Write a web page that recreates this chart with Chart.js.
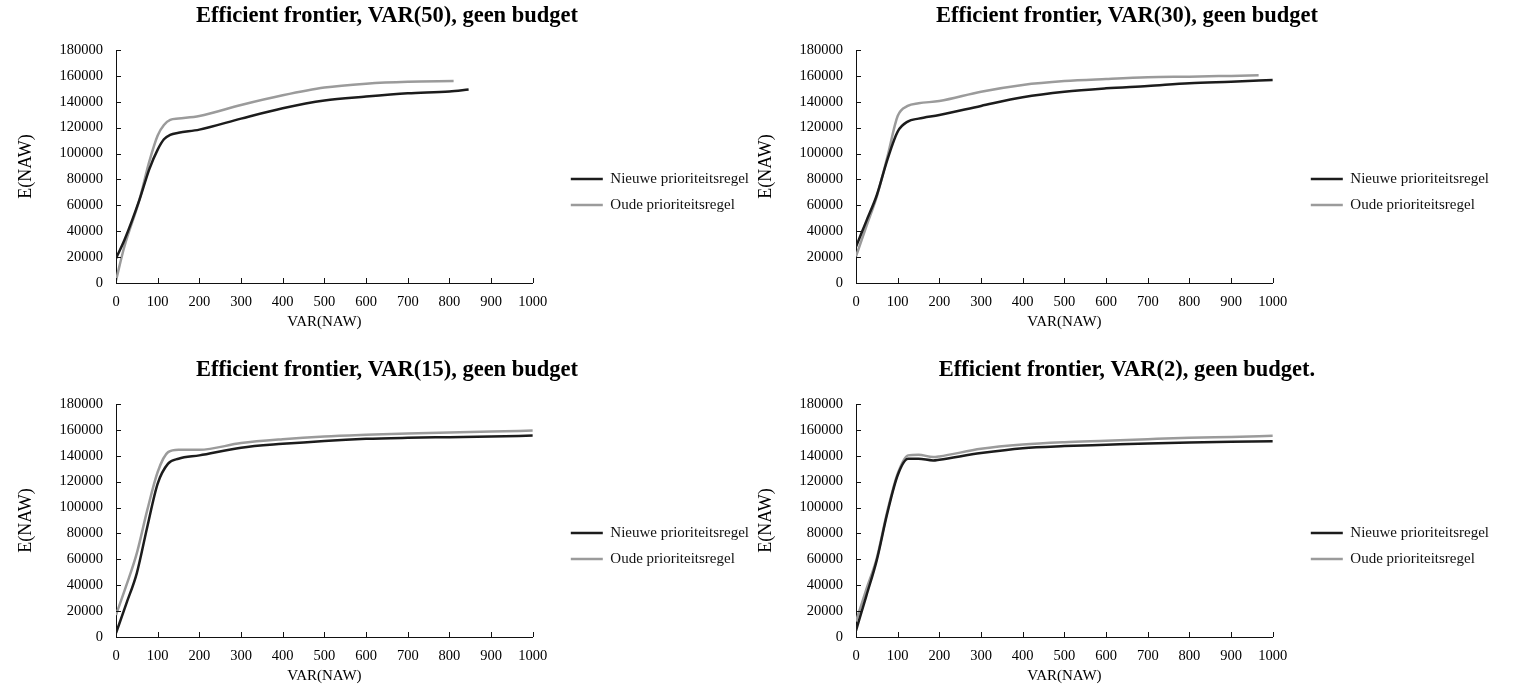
<!DOCTYPE html>
<html>
<head>
<meta charset="utf-8">
<script src="https://cdn.jsdelivr.net/npm/chart.js@4.4.1/dist/chart.umd.min.js"></script>
<style>
  html, body { margin: 0; padding: 0; background: #fff; overflow: hidden; width: 1514px; height: 684px; }
  canvas { position: absolute; }
</style>
</head>
<body>
<canvas id="chart50" width="774" height="335" style="left:0;top:0"></canvas>
<canvas id="chart30" width="774" height="335" style="left:740px;top:0"></canvas>
<canvas id="chart15" width="774" height="335" style="left:0;top:354px"></canvas>
<canvas id="chart2" width="774" height="335" style="left:740px;top:354px"></canvas>
<script>
// VAR(50)
const var50NieuweX = [0, 20, 56, 80, 100, 115, 130, 150, 200, 300, 400, 500, 600, 700, 800, 846];
const var50NieuweY = [19000, 33000, 64000, 88000, 103000, 111000, 114500, 116000, 118500, 127000, 135000, 141000, 144000, 146500, 148000, 149500];
const var50OudeX = [0, 20, 56, 80, 100, 115, 130, 150, 200, 300, 400, 500, 600, 700, 810];
const var50OudeY = [2000, 28000, 64000, 94000, 114000, 122000, 126000, 127000, 129000, 137500, 145000, 151000, 154000, 155500, 156000];

// VAR(30)
const var30NieuweX = [0, 25, 50, 75, 100, 124, 150, 200, 300, 400, 500, 600, 700, 800, 900, 1000];
const var30NieuweY = [28000, 48000, 68000, 95000, 117000, 124700, 127000, 129800, 136800, 143500, 147800, 150400, 152200, 154300, 155500, 156800];
const var30OudeX = [0, 25, 50, 75, 100, 124, 150, 200, 300, 400, 500, 600, 700, 800, 900, 966];
const var30OudeY = [20500, 44000, 67000, 97000, 129000, 136800, 138800, 140600, 147800, 153000, 156000, 157600, 158900, 159400, 160000, 160400];

// VAR(15)
const var15X = [0, 25, 50, 75, 100, 125, 150, 200, 300, 400, 500, 600, 700, 800, 900, 1000];
const var15NieuweY = [3000, 26000, 49400, 85000, 118500, 133900, 137700, 140300, 146200, 149200, 151500, 153100, 153900, 154400, 154900, 155600];
const var15OudeY = [17000, 40000, 64800, 98000, 127500, 142800, 144600, 144600, 149800, 152800, 154900, 156200, 157200, 158000, 158700, 159500];

// VAR(2)
const var2X = [0, 25, 50, 75, 100, 125, 150, 185, 200, 300, 400, 500, 600, 700, 800, 900, 1000];
const var2NieuweY = [5000, 32000, 59600, 95500, 125000, 137700, 137700, 136400, 137000, 142100, 145900, 147500, 148500, 149500, 150300, 150800, 151300];
const var2OudeY = [12000, 37000, 61000, 97000, 126200, 140300, 140800, 139000, 139500, 145400, 148700, 150500, 151600, 152800, 153900, 154600, 155400];

const xTicks = { min: 0, max: 1000, step: 100 };
const yTicks = { min: 0, max: 180000, step: 20000 };

Chart.defaults.font.family = '"Liberation Serif", "Times New Roman", serif';
Chart.defaults.color = '#000';

// korte tickstreepjes naar binnen, zoals in Excel
const innerTicks = {
  id: 'innerTicks',
  afterDraw(chart) {
    const { ctx, chartArea, scales } = chart;
    ctx.save();
    ctx.strokeStyle = '#111';
    ctx.lineWidth = 1;
    ctx.beginPath();
    scales.x.ticks.forEach(t => {
      const px = Math.round(scales.x.getPixelForValue(t.value)) + 0.5;
      ctx.moveTo(px, chartArea.bottom);
      ctx.lineTo(px, chartArea.bottom - 5);
    });
    scales.y.ticks.forEach(t => {
      const py = Math.round(scales.y.getPixelForValue(t.value)) + 0.5;
      ctx.moveTo(chartArea.left, py);
      ctx.lineTo(chartArea.left + 5, py);
    });
    ctx.stroke();
    ctx.restore();
  }
};

function points(xs, ys) {
  return xs.map((x, i) => ({ x: x, y: ys[i] }));
}

function makeChart(id, title, xsNew, ysNew, xsOld, ysOld) {
  return new Chart(document.getElementById(id), {
    type: 'line',
    data: {
      datasets: [
        {
          label: 'Nieuwe prioriteitsregel',
          data: points(xsNew, ysNew),
          borderColor: '#1c1c1c',
          borderWidth: 2.5,
          pointRadius: 0,
          pointStyle: 'line',
          cubicInterpolationMode: 'monotone',
          fill: false,
          yAxisID: 'y'
        },
        {
          label: 'Oude prioriteitsregel',
          data: points(xsOld, ysOld),
          borderColor: '#9b9b9b',
          borderWidth: 2.5,
          pointRadius: 0,
          pointStyle: 'line',
          cubicInterpolationMode: 'monotone',
          fill: false,
          yAxisID: 'y'
        }
      ]
    },
    options: {
      responsive: false,
      animation: false,
      layout: { padding: { left: 15, right: 15, top: 0, bottom: 0 } },
      plugins: {
        title: {
          display: true,
          text: title,
          color: '#000',
          font: { size: 22.5, weight: 'bold' },
          padding: { top: 3, bottom: 20 }
        },
        legend: {
          position: 'right',
          maxWidth: 300,
          labels: {
            usePointStyle: true,
            pointStyleWidth: 32,
            padding: 11,
            color: '#111',
            font: { size: 15 }
          },
          // lege titel om de legenda iets omlaag te schuiven
          title: { display: true, text: ' ', font: { size: 10 }, padding: { top: 0, bottom: 37 } }
        },
        tooltip: { enabled: false }
      },
      scales: {
        x: {
          type: 'linear',
          min: xTicks.min,
          max: xTicks.max,
          grid: { display: false, drawTicks: false },
          border: { color: '#111' },
          ticks: { stepSize: xTicks.step, padding: 10, font: { size: 14.5 }, callback: v => String(v) },
          title: { display: true, text: 'VAR(NAW)', font: { size: 15 }, padding: { top: 0, bottom: 4 } },
          afterFit: s => { s.height = 52; }
        },
        y: {
          type: 'linear',
          min: yTicks.min,
          max: yTicks.max,
          grid: { display: false, drawTicks: false },
          border: { color: '#111' },
          ticks: { stepSize: yTicks.step, padding: 13, font: { size: 14.5 }, callback: v => String(v) },
          title: { display: true, text: 'E(NAW)', font: { size: 18 }, padding: 0 },
          afterFit: s => { s.width = 101; }
        },
        gap: {
          type: 'linear',
          position: 'right',
          grid: { display: false, drawTicks: false },
          border: { display: false },
          ticks: { display: false },
          afterFit: s => { s.width = 27; }
        }
      }
    },
    plugins: [innerTicks]
  });
}

makeChart('chart50', 'Efficient frontier, VAR(50), geen budget', var50NieuweX, var50NieuweY, var50OudeX, var50OudeY);
makeChart('chart30', 'Efficient frontier, VAR(30), geen budget', var30NieuweX, var30NieuweY, var30OudeX, var30OudeY);
makeChart('chart15', 'Efficient frontier, VAR(15), geen budget', var15X, var15NieuweY, var15X, var15OudeY);
makeChart('chart2', 'Efficient frontier, VAR(2), geen budget.', var2X, var2NieuweY, var2X, var2OudeY);
</script>
</body>
</html>
